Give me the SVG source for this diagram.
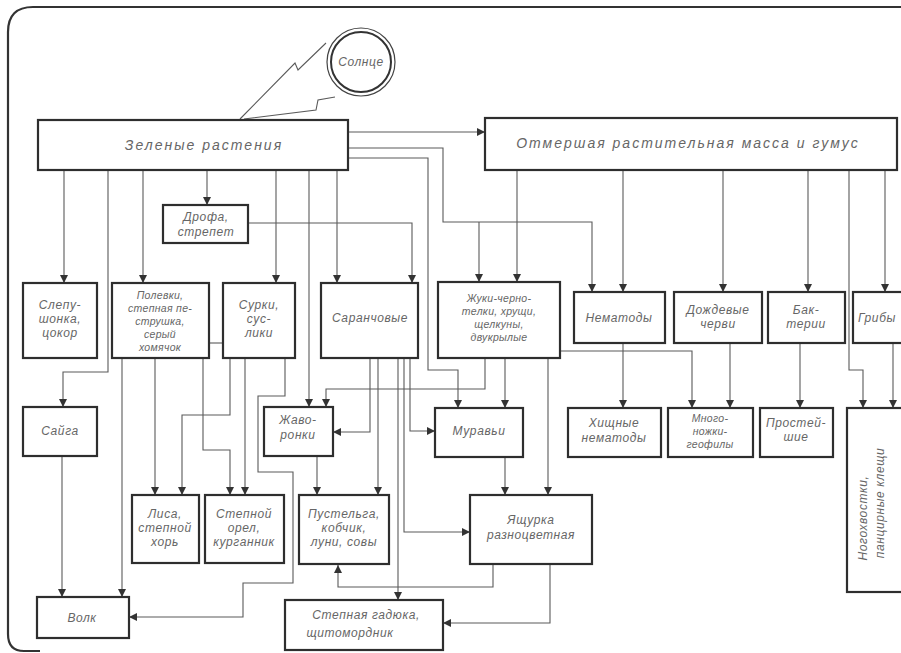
<svg xmlns="http://www.w3.org/2000/svg" width="901" height="653" viewBox="0 0 901 653">
<style>
.bg{fill:#ffffff}
.box{fill:#ffffff;stroke:#2e2e2e;stroke-width:2.2}
.ln{fill:none;stroke:#5a5a5a;stroke-width:1.1}
.t{font-family:"Liberation Sans",Arial,sans-serif;font-style:italic;font-size:12px;fill:#666;text-anchor:middle;letter-spacing:0.6px}
.s{font-size:10.5px;letter-spacing:0.3px}
.big{font-size:14px;letter-spacing:2px}
.frame{fill:none;stroke:#333;stroke-width:2.2}
</style>
<defs>
<marker id="ah" viewBox="0 0 8 8" refX="8" refY="4" markerWidth="8" markerHeight="8" markerUnits="userSpaceOnUse" orient="auto">
<path d="M0,0 L8,4 L0,8 z" fill="#333"/>
</marker>
</defs>
<rect class="bg" x="0" y="0" width="901" height="653"/>
<path class="frame" d="M901 7 H33 Q8 7 8 32 V634 Q8 651 24 651 H40"/>

<g id="sun">
<circle cx="361" cy="62" r="34" fill="#fff" stroke="#444" stroke-width="1.2"/>
<circle cx="361" cy="62" r="30" fill="#fff" stroke="#333" stroke-width="2"/>
<text class="t" x="361" y="66">Солнце</text>
</g>
<g id="sunbolt">
<path class="ln" d="M326 43 L298 70 L295 63 L240 119 M335 97 L318 100 L316 110 L244 119"/>
</g>

<g id="connectors">
<path class="ln" marker-end="url(#ah)" d="M348 132 H485"/>
<path class="ln" marker-end="url(#ah)" d="M348 148 H443 V222 H592 V292"/>
<path class="ln" marker-end="url(#ah)" d="M479 222 V282"/>
<path class="ln" marker-end="url(#ah)" d="M348 158 H428 V370 H458 V408"/>
<path class="ln" marker-end="url(#ah)" d="M517 170 V282"/>
<path class="ln" marker-end="url(#ah)" d="M623 170 V292"/>
<path class="ln" marker-end="url(#ah)" d="M723 170 V292"/>
<path class="ln" marker-end="url(#ah)" d="M808 170 V292"/>
<path class="ln" marker-end="url(#ah)" d="M849 170 V370 H863 V408"/>
<path class="ln" marker-end="url(#ah)" d="M885 170 V292"/>
<path class="ln" marker-end="url(#ah)" d="M64 170 V283"/>
<path class="ln" marker-end="url(#ah)" d="M108 170 V372 H63 V407"/>
<path class="ln" marker-end="url(#ah)" d="M143 170 V283"/>
<path class="ln" marker-end="url(#ah)" d="M207 170 V205"/>
<path class="ln" marker-end="url(#ah)" d="M276 170 V283"/>
<path class="ln" marker-end="url(#ah)" d="M309 170 V407"/>
<path class="ln" marker-end="url(#ah)" d="M337 170 V283"/>
<path class="ln" marker-end="url(#ah)" d="M248 223 H412 V283"/>
<path class="ln" marker-end="url(#ah)" d="M122 358 V597"/>
<path class="ln" marker-end="url(#ah)" d="M155 358 V495"/>
<path class="ln" marker-end="url(#ah)" d="M203 358 V450 H230 V495"/>
<path class="ln" marker-end="url(#ah)" d="M230 358 V415 H182 V495"/>
<path class="ln" marker-end="url(#ah)" d="M245 358 V495"/>
<path class="ln" marker-end="url(#ah)" d="M285 358 V396 H258 V472 H293 V583 H243 V617 H129"/>
<path class="ln" marker-end="url(#ah)" d="M62 456 V597"/>
<path class="ln" marker-end="url(#ah)" d="M370 358 V432 H333"/>
<path class="ln" marker-end="url(#ah)" d="M378 358 V495"/>
<path class="ln" marker-end="url(#ah)" d="M398 358 V600"/>
<path class="ln" marker-end="url(#ah)" d="M404 358 V532 H470"/>
<path class="ln" marker-end="url(#ah)" d="M410 358 V431 H435"/>
<path class="ln" marker-end="url(#ah)" d="M485 358 V389 H326 V407"/>
<path class="ln" marker-end="url(#ah)" d="M505 358 V408"/>
<path class="ln" marker-end="url(#ah)" d="M548 358 V495"/>
<path class="ln" marker-end="url(#ah)" d="M560 351 H692 V408"/>
<path class="ln" marker-end="url(#ah)" d="M317 456 V495"/>
<path class="ln" marker-end="url(#ah)" d="M505 457 V495"/>
<path class="ln" marker-end="url(#ah)" d="M493 564 V587 H338 V565"/>
<path class="ln" marker-end="url(#ah)" d="M550 564 V623 H443"/>
<path class="ln" marker-end="url(#ah)" d="M623 343 V408"/>
<path class="ln" marker-end="url(#ah)" d="M730 343 V408"/>
<path class="ln" marker-end="url(#ah)" d="M800 343 V408"/>
<path class="ln" marker-end="url(#ah)" d="M893 343 V408"/>
<path class="ln" d="M209 343 H233"/>
</g>

<g id="green">
<rect class="box" x="38" y="120" width="310" height="50"/>
<text class="t big" x="204" y="150">Зеленые растения</text>
</g>
<g id="deadmass">
<rect class="box" x="485" y="118" width="412" height="52"/>
<text class="t big" x="688" y="148">Отмершая растительная масса и гумус</text>
</g>
<g id="drofa">
<rect class="box" x="163" y="205" width="85" height="38"/>
<text class="t" x="206" y="221">Дрофа,</text>
<text class="t" x="206" y="236">стрепет</text>
</g>
<g id="slepushonka">
<rect class="box" x="23" y="283" width="74" height="75"/>
<text class="t" x="60" y="309">Слепу-</text>
<text class="t" x="60" y="323">шонка,</text>
<text class="t" x="60" y="337">цокор</text>
</g>
<g id="polevki">
<rect class="box" x="112" y="283" width="97" height="75"/>
<text class="t s" x="160" y="299">Полевки,</text>
<text class="t s" x="160" y="312">степная пе-</text>
<text class="t s" x="160" y="325">струшка,</text>
<text class="t s" x="160" y="338">серый</text>
<text class="t s" x="160" y="351">хомячок</text>
</g>
<g id="surki">
<rect class="box" x="223" y="283" width="72" height="75"/>
<text class="t" x="259" y="309">Сурки,</text>
<text class="t" x="259" y="323">сус-</text>
<text class="t" x="259" y="337">лики</text>
</g>
<g id="saranchovye">
<rect class="box" x="321" y="283" width="97" height="75"/>
<text class="t" x="370" y="322">Саранчовые</text>
</g>
<g id="zhuki">
<rect class="box" x="438" y="282" width="122" height="76"/>
<text class="t s" x="499" y="302">Жуки-черно-</text>
<text class="t s" x="499" y="315">телки, хрущи,</text>
<text class="t s" x="499" y="328">щелкуны,</text>
<text class="t s" x="499" y="341">двукрылые</text>
</g>
<g id="nematody">
<rect class="box" x="574" y="292" width="91" height="51"/>
<text class="t" x="619" y="322">Нематоды</text>
</g>
<g id="dozhdevye">
<rect class="box" x="674" y="292" width="88" height="51"/>
<text class="t" x="718" y="314">Дождевые</text>
<text class="t" x="718" y="328">черви</text>
</g>
<g id="bakterii">
<rect class="box" x="768" y="292" width="77" height="51"/>
<text class="t" x="806" y="314">Бак-</text>
<text class="t" x="806" y="328">терии</text>
</g>
<g id="griby">
<rect class="box" x="853" y="292" width="60" height="51"/>
<text class="t" x="858" y="322" style="text-anchor:start">Грибы</text>
</g>
<g id="saiga">
<rect class="box" x="23" y="407" width="74" height="49"/>
<text class="t" x="60" y="435">Сайга</text>
</g>
<g id="zhavoronki">
<rect class="box" x="264" y="407" width="69" height="49"/>
<text class="t" x="298" y="424">Жаво-</text>
<text class="t" x="298" y="439">ронки</text>
</g>
<g id="muravyi">
<rect class="box" x="435" y="408" width="88" height="49"/>
<text class="t" x="479" y="435">Муравьи</text>
</g>
<g id="hishnye">
<rect class="box" x="568" y="408" width="93" height="49"/>
<text class="t" x="614" y="427">Хищные</text>
<text class="t" x="614" y="442">нематоды</text>
</g>
<g id="mnogonozhki">
<rect class="box" x="668" y="408" width="85" height="49"/>
<text class="t s" x="710" y="422">Много-</text>
<text class="t s" x="710" y="435">ножки-</text>
<text class="t s" x="710" y="448">геофилы</text>
</g>
<g id="prosteishie">
<rect class="box" x="760" y="408" width="73" height="49"/>
<text class="t" x="796" y="427">Простей-</text>
<text class="t" x="796" y="441">шие</text>
</g>
<g id="nogohvostki">
<rect class="box" x="847" y="408" width="66" height="184"/>
<text class="t" transform="translate(867,518) rotate(-90)" x="0" y="0">Ногохвостки,</text>
<text class="t" transform="translate(884,503) rotate(-90)" x="0" y="0">панцирные клещи</text>
</g>
<g id="lisa">
<rect class="box" x="132" y="495" width="67" height="68"/>
<text class="t" x="165" y="518">Лиса,</text>
<text class="t" x="165" y="532">степной</text>
<text class="t" x="165" y="546">хорь</text>
</g>
<g id="orel">
<rect class="box" x="205" y="495" width="79" height="68"/>
<text class="t" x="244" y="518">Степной</text>
<text class="t" x="244" y="532">орел,</text>
<text class="t" x="244" y="546">курганник</text>
</g>
<g id="pustelga">
<rect class="box" x="299" y="495" width="90" height="69"/>
<text class="t" x="344" y="518">Пустельга,</text>
<text class="t" x="344" y="532">кобчик,</text>
<text class="t" x="344" y="546">луни, совы</text>
</g>
<g id="yashchurka">
<rect class="box" x="470" y="495" width="122" height="69"/>
<text class="t" x="531" y="524">Ящурка</text>
<text class="t" x="531" y="539">разноцветная</text>
</g>
<g id="volk">
<rect class="box" x="37" y="597" width="92" height="41"/>
<text class="t" x="82" y="622">Волк</text>
</g>
<g id="gadyuka">
<rect class="box" x="285" y="600" width="158" height="50"/>
<text class="t" x="366" y="619">Степная гадюка,</text>
<text class="t" x="350" y="637">щитомордник</text>
</g>
</svg>
